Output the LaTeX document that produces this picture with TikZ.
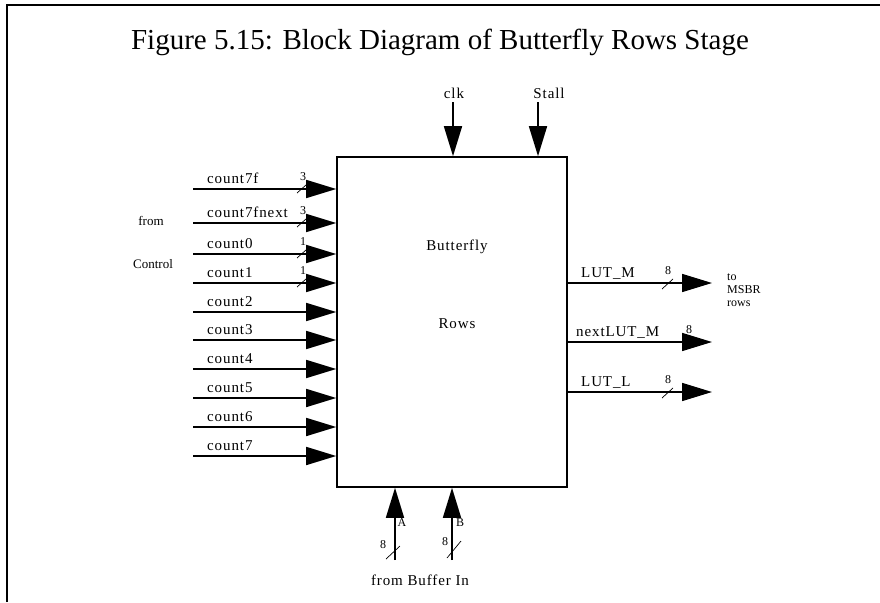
\documentclass[tikz,border=0pt]{standalone}
\usepackage{fontspec}
\setmainfont{Liberation Serif}
\newfontfamily\spacedfont[LetterSpace=6]{Liberation Serif}
\usetikzlibrary{arrows.meta, positioning}

\begin{document}
\begin{tikzpicture}[x=1pt, y=-1pt,
  sig/.style={line width=1.6pt, -{Triangle[length=30pt, width=18pt]}},
  lbl/.style={font=\spacedfont\fontsize{15}{17}\selectfont, inner sep=0pt},
  small/.style={font=\fontsize{12}{13}\selectfont, inner sep=0pt},
  bus/.style={line width=0.7pt}]
  \useasboundingbox (0,0) rectangle (880,602);
  \draw[line width=2pt] (7,602) -- (7,5) -- (880,5);
  \node[font=\fontsize{29}{32}\selectfont, inner sep=0pt] (title) at (440,42)
    {Figure 5.15: Block Diagram of Butterfly Rows Stage};
  \node[draw, line width=1.6pt, minimum width=230pt, minimum height=330pt,
    inner sep=0pt] (bfr) at (452,322) {};
  \node[lbl] (bname) at (457,247) {Butterfly};
  \node[lbl] (bname2) at (457,324) {Rows};
  \foreach \name/\yy [count=\i] in {count7f/189, count7fnext/223, count0/254,
      count1/283, count2/312, count3/340, count4/369, count5/398, count6/427,
      count7/456} {
    \coordinate (in\i) at (193,\yy);
    \draw[sig] (in\i) -- (in\i -| bfr.west);
    \node[lbl, anchor=base west] (lin\i) at (207,\yy-6) {\name};
  }
  \foreach \w/\yy [count=\i] in {3/189, 3/223, 1/254, 1/283} {
    \draw[bus] (297,\yy+4) -- (306,\yy-4);
    \node[small] (win\i) at (303,\yy-12) {\w};
  }
  \node[small, font=\fontsize{13}{14}\selectfont] (from) at (151,221) {from};
  \node[small, font=\fontsize{13}{14}\selectfont] (ctrl) at (153,264) {Control};
  \foreach \name/\yy/\lx/\bx [count=\i] in {LUT\_M/283/581/667,
      nextLUT\_M/342/576/688, LUT\_L/392/581/667} {
    \coordinate (out\i) at (712,\yy);
    \draw[sig] (out\i -| bfr.east) -- (out\i);
    \node[lbl, anchor=base west] (lout\i) at (\lx,\yy-6) {\name};
    \draw[bus] (\bx-5,\yy+6) -- (\bx+6,\yy-4);
    \node[small] (wout\i) at (\bx+1,\yy-12) {8};
  }
  \node[small, align=left, anchor=north west] (dest) at (727,274)
    {to\\MSBR\\rows};
  \coordinate (clk) at (453,102);
  \coordinate (stall) at (538,102);
  \draw[sig] (clk) -- (clk |- bfr.north);
  \draw[sig] (stall) -- (stall |- bfr.north);
  \node[lbl, anchor=south] (lclk) at (454,99) {clk};
  \node[lbl, anchor=south] (lstall) at (549,99) {Stall};
  \coordinate (ina) at (395,560);
  \coordinate (inb) at (452,560);
  \draw[sig] (ina) -- (ina |- bfr.south);
  \draw[sig] (inb) -- (inb |- bfr.south);
  \node[small] (la) at (402,523) {A};
  \node[small] (lb) at (460,523) {B};
  \draw[bus] (386,559) -- (400,546);
  \draw[bus] (447,558) -- (461,541);
  \node[small] (wa) at (383,545) {8};
  \node[small] (wb) at (445,542) {8};
  \node[lbl] (buf) at (420,580) {from Buffer In};
\end{tikzpicture}
\end{document}
